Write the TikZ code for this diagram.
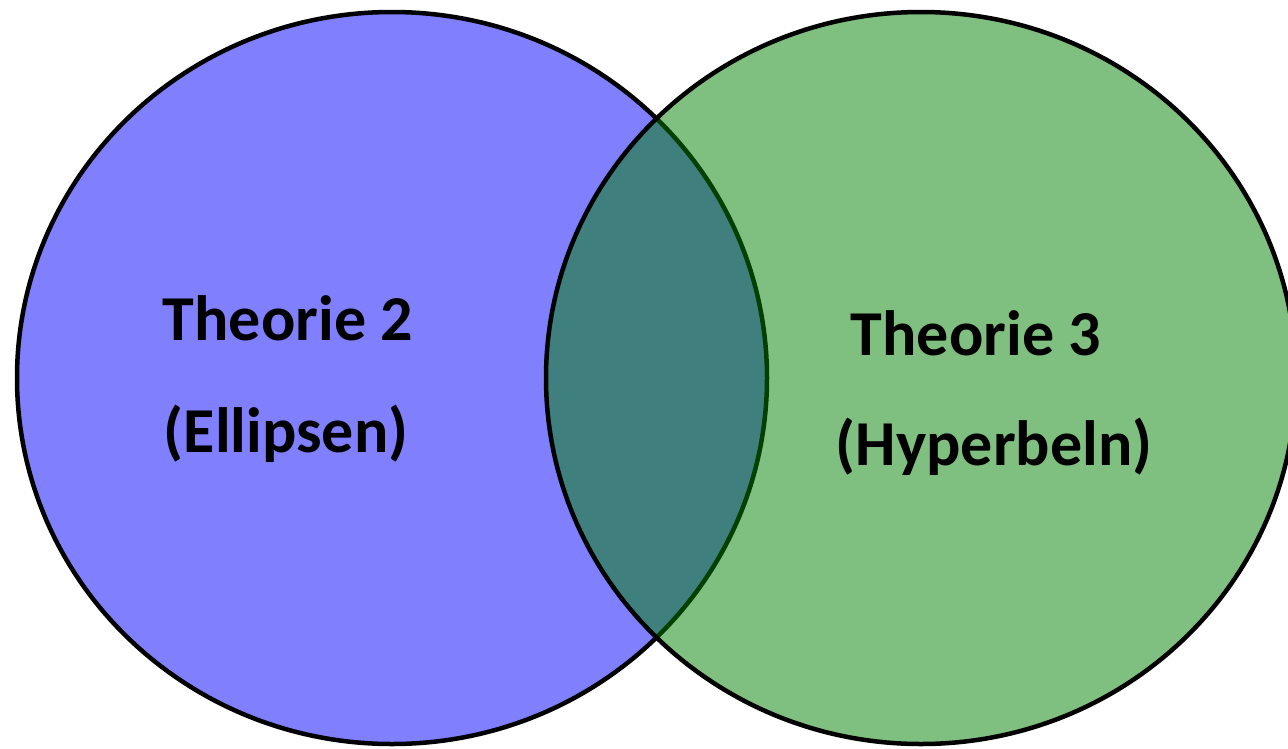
\documentclass[tikz,border=0pt]{standalone}
\usepackage{fontspec}
\setmainfont{Carlito}
\usetikzlibrary{shapes.geometric}
\definecolor{bluefill}{RGB}{128,128,255}
\definecolor{greenbase}{RGB}{0,128,0}
\tikzset{
  setcircle/.style={ellipse, draw=black, line width=4.5pt, minimum width=750pt, minimum height=732pt, inner sep=0pt},
  lbl/.style={font=\fontsize{64}{70}\selectfont\bfseries, anchor=base, inner sep=0pt}
}
\begin{document}
\begin{tikzpicture}[x=1pt,y=-1pt]
\useasboundingbox (0,0) rectangle (1288,748);
\node[setcircle, fill=bluefill] (L) at (392,378) {};
\node[setcircle, fill=greenbase, fill opacity=0.5] (R) at (921,378) {};
\node[lbl] (t2) at (288,340) {Theorie 2};
\node[lbl] (e2) at (286,452) {(Ellipsen)};
\node[lbl] (t3) at (976,355) {Theorie 3};
\node[lbl] (h3) at (994,465) {(Hyperbeln)};
\end{tikzpicture}
\end{document}
